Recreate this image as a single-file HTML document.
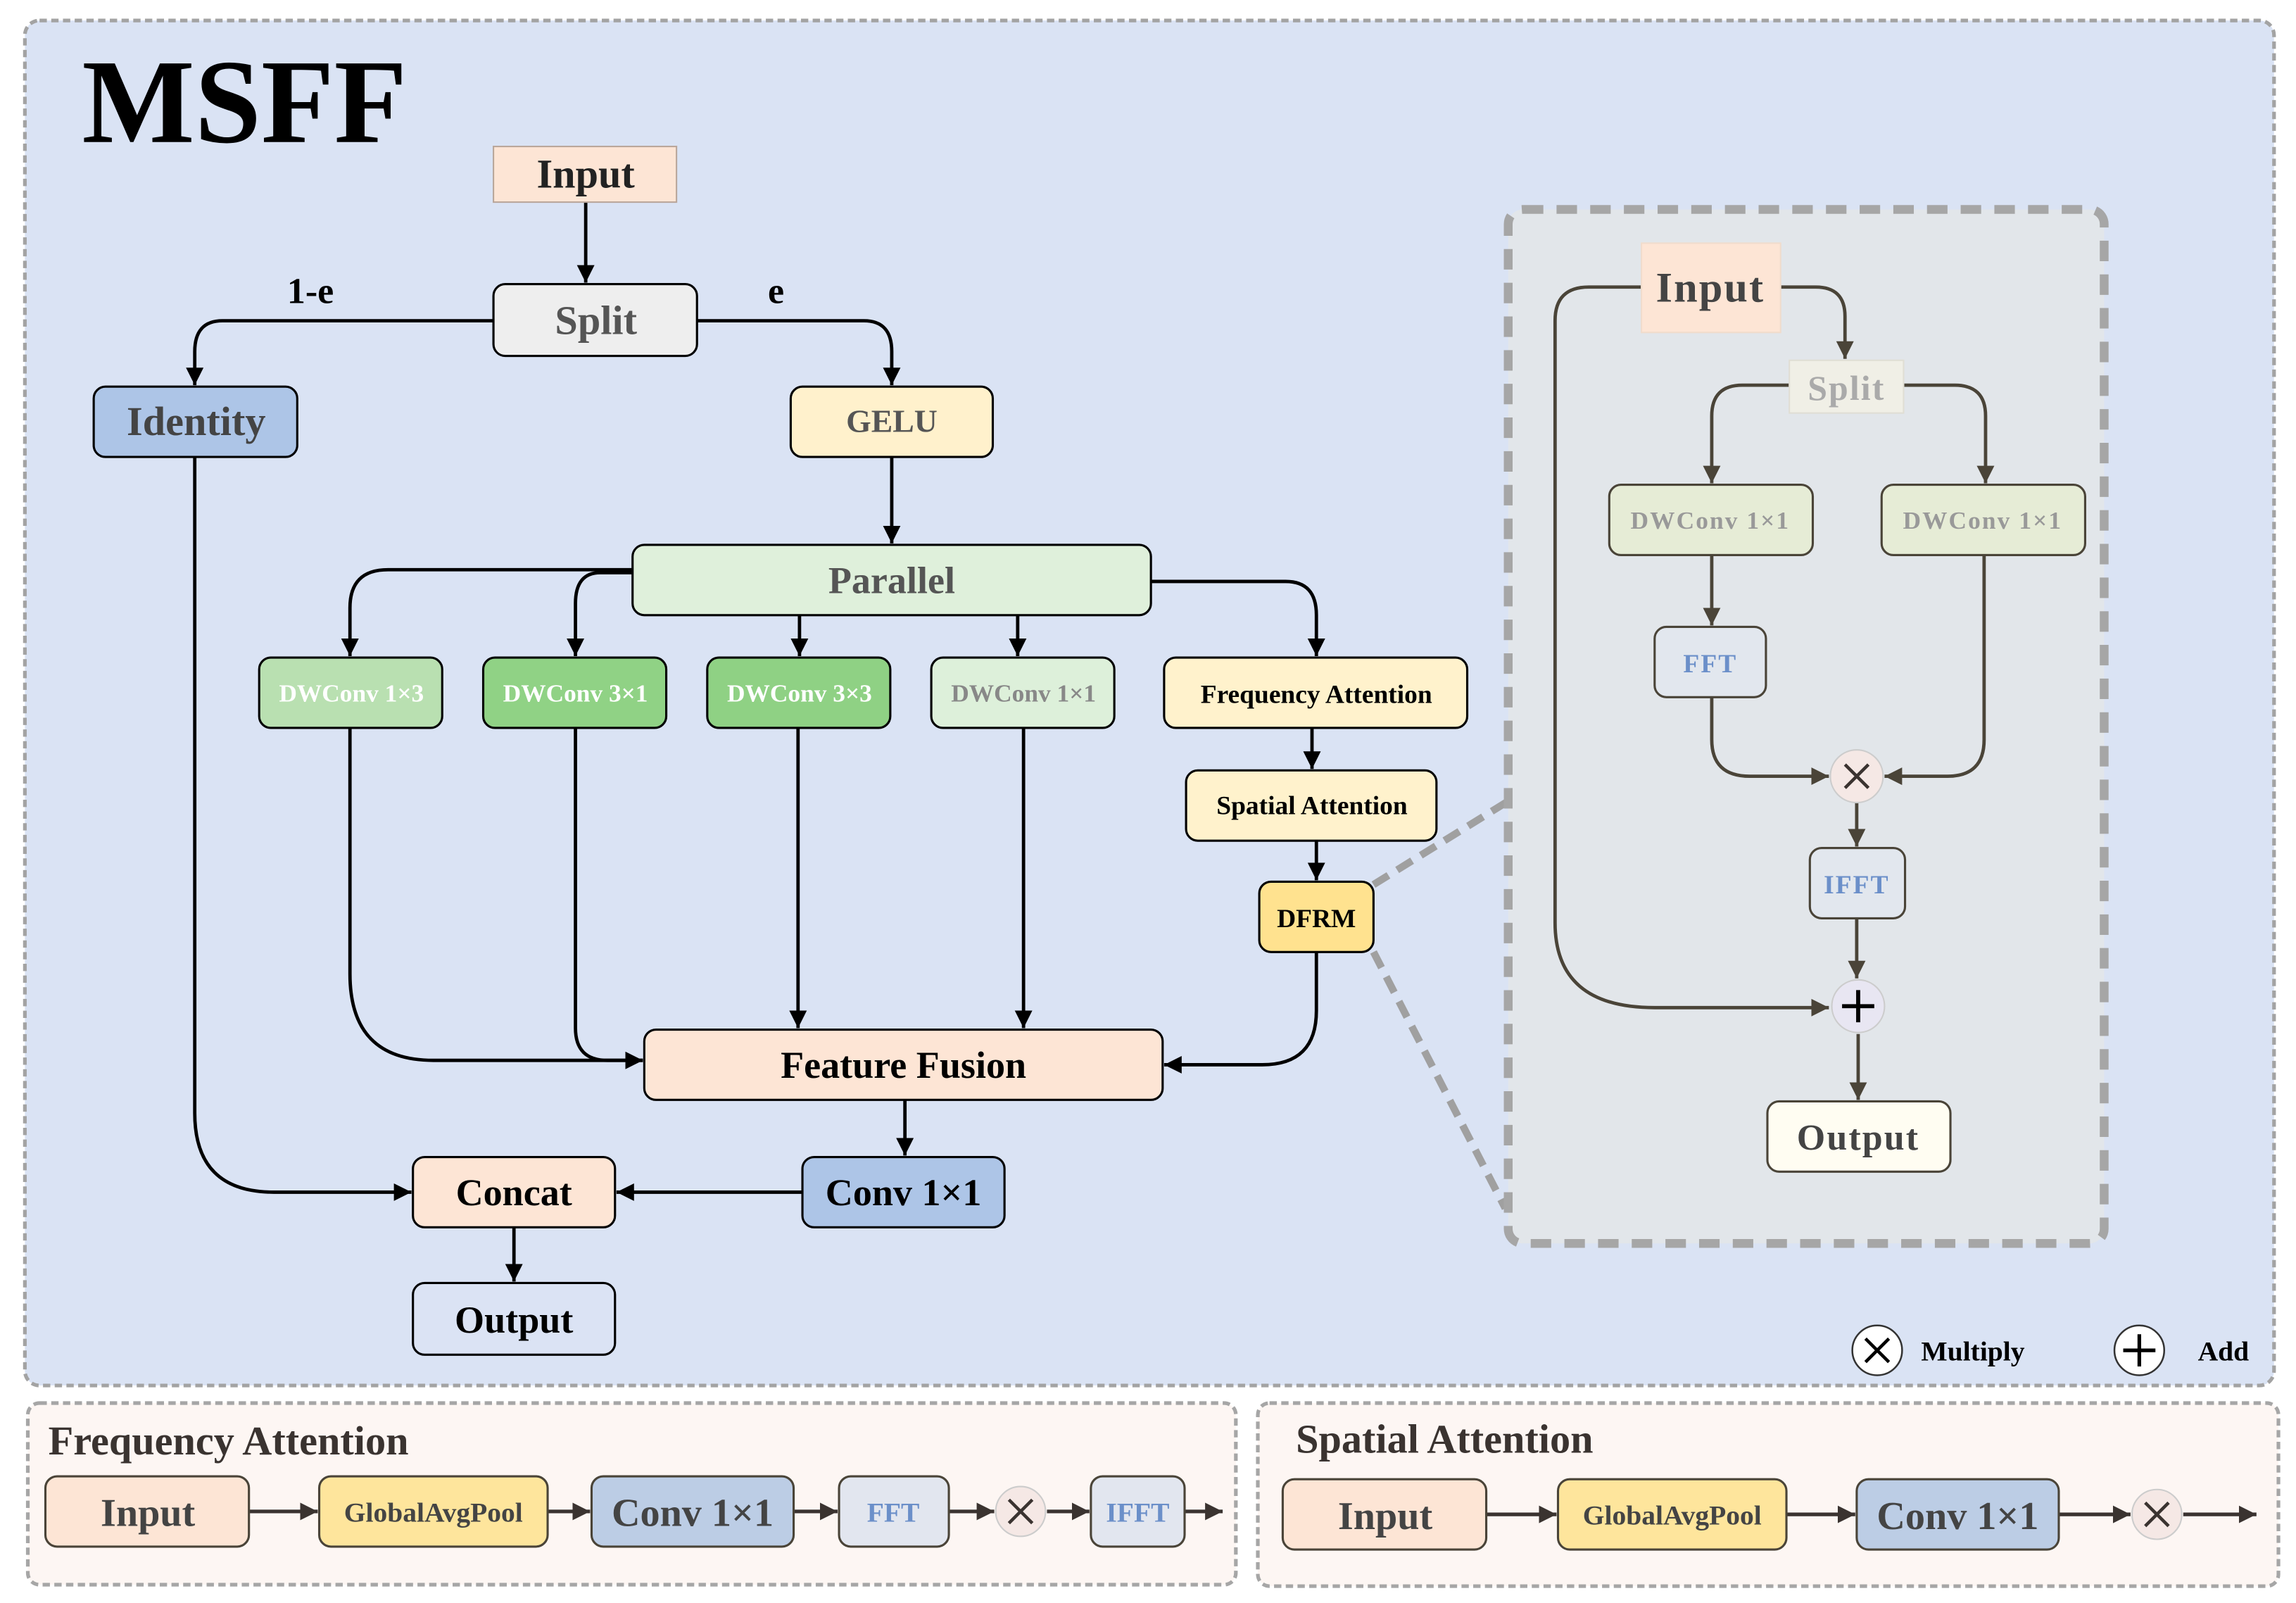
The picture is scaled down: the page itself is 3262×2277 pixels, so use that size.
<!DOCTYPE html>
<html><head><meta charset="utf-8"><style>
html,body{margin:0;padding:0;background:#fff;}
svg{display:block;}
text{font-family:"Liberation Serif",serif;font-weight:bold;}
</style></head><body>
<svg width="3262" height="2277" viewBox="0 0 1568 1094.5" xmlns="http://www.w3.org/2000/svg">
<defs>
<marker id="a" markerUnits="userSpaceOnUse" markerWidth="14" markerHeight="14" refX="12" refY="7" orient="auto"><path d="M0,1 L12,7 L0,13 z" fill="#000"/></marker>
<marker id="b" markerUnits="userSpaceOnUse" markerWidth="14" markerHeight="14" refX="12" refY="7" orient="auto"><path d="M0,1 L12,7 L0,13 z" fill="#4a4438"/></marker>
<marker id="c" markerUnits="userSpaceOnUse" markerWidth="14" markerHeight="14" refX="12" refY="7" orient="auto"><path d="M0,1 L12,7 L0,13 z" fill="#3a3330"/></marker>
</defs>
<rect width="1568" height="1094.5" fill="#fff"/>
<!-- main panel -->
<rect x="17" y="14" width="1536" height="932" rx="10" fill="#dae3f4" stroke="#a3a3a3" stroke-width="2.5" stroke-dasharray="5 3"/>
<text x="56" y="97" font-size="82" fill="#000" textLength="222" lengthAdjust="spacingAndGlyphs">MSFF</text>

<g stroke="#000" stroke-width="2.3" fill="none">
<path d="M400,138 V193" marker-end="url(#a)"/>
<path d="M337,219 H152 Q133,219 133,240 V263" marker-end="url(#a)"/>
<path d="M476,219 H590 Q609,219 609,240 V263" marker-end="url(#a)"/>
<path d="M609,312 V371" marker-end="url(#a)"/>
<path d="M432,389 H265 Q239,389 239,415 V448" marker-end="url(#a)"/>
<path d="M432,391 H410 Q393,391 393,412 V448" marker-end="url(#a)"/>
<path d="M546,420 V448" marker-end="url(#a)"/>
<path d="M695,420 V448" marker-end="url(#a)"/>
<path d="M786,397 H878 Q899,397 899,420 V448" marker-end="url(#a)"/>
<path d="M896,497 V525" marker-end="url(#a)"/>
<path d="M899,574 V601" marker-end="url(#a)"/>
<path d="M239,497 V665 Q239,724 296,724 H439" marker-end="url(#a)"/>
<path d="M393,497 V702 Q393,724 415,724 H439" marker-end="url(#a)"/>
<path d="M545,497 V702" marker-end="url(#a)"/>
<path d="M699,497 V702" marker-end="url(#a)"/>
<path d="M899,650 V690 Q899,727 862,727 H795" marker-end="url(#a)"/>
<path d="M618,751 V789" marker-end="url(#a)"/>
<path d="M548,814 H421" marker-end="url(#a)"/>
<path d="M133,312 V760 Q133,814 187,814 H281" marker-end="url(#a)"/>
<path d="M351,838 V875" marker-end="url(#a)"/>
</g>

<g stroke="#000" stroke-width="1.5">
<rect x="337" y="100" width="125" height="38" fill="#fde5d5" stroke="#b9a69a" stroke-width="1"/>
<rect x="337" y="194" width="139" height="49" rx="8" fill="#eeeeee"/>
<rect x="64" y="264" width="139" height="48" rx="8" fill="#adc5e7"/>
<rect x="540" y="264" width="138" height="48" rx="8" fill="#fff1cc"/>
<rect x="432" y="372" width="354" height="48" rx="8" fill="#dff0db"/>
<rect x="177" y="449" width="125" height="48" rx="8" fill="#b9e0b1"/>
<rect x="330" y="449" width="125" height="48" rx="8" fill="#90d285"/>
<rect x="483" y="449" width="125" height="48" rx="8" fill="#8fd184"/>
<rect x="636" y="449" width="125" height="48" rx="8" fill="#ddf0da"/>
<rect x="795" y="449" width="207" height="48" rx="8" fill="#fff2cc"/>
<rect x="810" y="526" width="171" height="48" rx="8" fill="#fff2cc"/>
<rect x="860" y="602" width="78" height="48" rx="8" fill="#ffe28f"/>
<rect x="440" y="703" width="354" height="48" rx="8" fill="#fde5d5"/>
<rect x="548" y="790" width="138" height="48" rx="8" fill="#adc5e7"/>
<rect x="282" y="790" width="138" height="48" rx="8" fill="#fde5d5"/>
<rect x="282" y="876" width="138" height="49" rx="8" fill="#dbe3f4"/>
</g>
<g text-anchor="middle">
<text x="400" y="128" font-size="28" fill="#222">Input</text>
<text x="407" y="228" font-size="28" fill="#555">Split</text>
<text x="212" y="207" font-size="25" fill="#000">1-e</text>
<text x="530" y="207" font-size="25" fill="#000">e</text>
<text x="134" y="297" font-size="28" fill="#444">Identity</text>
<text x="609" y="295" font-size="22" fill="#555">GELU</text>
<text x="609" y="405" font-size="26" fill="#555">Parallel</text>
<text x="240" y="479" font-size="17" fill="#fff">DWConv 1×3</text>
<text x="393" y="479" font-size="17" fill="#fff">DWConv 3×1</text>
<text x="546" y="479" font-size="17" fill="#fff">DWConv 3×3</text>
<text x="699" y="479" font-size="17" fill="#888">DWConv 1×1</text>
<text x="899" y="480" font-size="18" fill="#000">Frequency Attention</text>
<text x="896" y="556" font-size="18" fill="#000">Spatial Attention</text>
<text x="899" y="633" font-size="18" fill="#000">DFRM</text>
<text x="617" y="736" font-size="26" fill="#000">Feature Fusion</text>
<text x="617" y="823" font-size="26" fill="#000">Conv 1×1</text>
<text x="351" y="823" font-size="26" fill="#000">Concat</text>
<text x="351" y="910" font-size="26" fill="#000">Output</text>
</g>
<!-- legend -->
<circle cx="1282" cy="922" r="17" fill="#fff" stroke="#333" stroke-width="1.2"/>
<path d="M1274,914 L1290,930 M1290,914 L1274,930" stroke="#000" stroke-width="2.2"/>
<text x="1312" y="929" font-size="19" fill="#000">Multiply</text>
<circle cx="1461" cy="922" r="17" fill="#fff" stroke="#333" stroke-width="1.2"/>
<path d="M1450,922 H1472 M1461,911 V933" stroke="#000" stroke-width="2.5"/>
<text x="1501" y="929" font-size="19" fill="#000">Add</text>

<!-- DFRM zoom lines -->
<path d="M938,604 L1030,547" stroke="#a0a0a0" stroke-width="5" stroke-dasharray="12 7" fill="none"/>
<path d="M938,650 L1028,825" stroke="#a0a0a0" stroke-width="5" stroke-dasharray="12 7" fill="none"/>
<!-- DFRM panel -->
<rect x="1030" y="143" width="407" height="706" rx="10" fill="#e2e6ea" stroke="#a6a6a6" stroke-width="6" stroke-dasharray="14 9"/>
<g stroke="#4a4438" stroke-width="2.3" fill="none">
<path d="M1121,196 H1085 Q1062,196 1062,219 V630 Q1062,688 1130,688 H1249" marker-end="url(#b)"/>
<path d="M1216,196 H1240 Q1260,196 1260,216 V245" marker-end="url(#b)"/>
<path d="M1222,263 H1190 Q1169,263 1169,284 V330" marker-end="url(#b)"/>
<path d="M1300,263 H1335 Q1356,263 1356,284 V330" marker-end="url(#b)"/>
<path d="M1169,379 V427" marker-end="url(#b)"/>
<path d="M1169,476 V505 Q1169,530 1195,530 H1249" marker-end="url(#b)"/>
<path d="M1355,379 V505 Q1355,530 1330,530 H1287" marker-end="url(#b)"/>
<path d="M1268,548 V578" marker-end="url(#b)"/>
<path d="M1268,627 V668" marker-end="url(#b)"/>
<path d="M1269,706 V751" marker-end="url(#b)"/>
</g>
<rect x="1121" y="166" width="95" height="61" fill="#fde5d5" stroke="#f0dccc" stroke-width="1"/>
<rect x="1222" y="246" width="78" height="36" fill="#f0efe6" stroke="#e0ded4" stroke-width="1"/>
<g stroke="#4a4438" stroke-width="1.5">
<rect x="1099" y="331" width="139" height="48" rx="8" fill="#e6ecd6"/>
<rect x="1285" y="331" width="139" height="48" rx="8" fill="#e6ecd6"/>
<rect x="1130" y="428" width="76" height="48" rx="8" fill="#e2e7ee"/>
<rect x="1236" y="579" width="65" height="48" rx="8" fill="#e2e7ee"/>
<rect x="1207" y="752" width="125" height="48" rx="8" fill="#fffdf2"/>
</g>
<circle cx="1268" cy="530" r="18" fill="#f5e8e5" stroke="#ccc" stroke-width="1"/>
<path d="M1260,522 L1276,538 M1276,522 L1260,538" stroke="#3a3330" stroke-width="2.2"/>
<circle cx="1269" cy="687" r="18" fill="#e8e6f2" stroke="#ccc" stroke-width="1"/>
<path d="M1258,687 H1280 M1269,676 V698" stroke="#000" stroke-width="2.8"/>
<g text-anchor="middle">
<text x="1168" y="206" font-size="29" fill="#444" letter-spacing="1">Input</text>
<text x="1261" y="273" font-size="24" fill="#aaa" letter-spacing="1">Split</text>
<text x="1168" y="361" font-size="17" fill="#999" letter-spacing="1">DWConv 1×1</text>
<text x="1354" y="361" font-size="17" fill="#999" letter-spacing="1">DWConv 1×1</text>
<text x="1168" y="459" font-size="18" fill="#6b8fc9" letter-spacing="1">FFT</text>
<text x="1268" y="610" font-size="18" fill="#6b8fc9" letter-spacing="1">IFFT</text>
<text x="1269" y="785" font-size="25" fill="#444" letter-spacing="1">Output</text>
</g>

<!-- bottom panel 1 -->
<rect x="19" y="958" width="825" height="124" rx="8" fill="#fdf6f3" stroke="#a6a6a6" stroke-width="2.5" stroke-dasharray="5 3"/>
<text x="33" y="993" font-size="28" fill="#3a3330">Frequency Attention</text>
<g stroke="#3a3330" stroke-width="2.5" fill="none">
<path d="M170,1032 H217" marker-end="url(#c)"/>
<path d="M374,1032 H403" marker-end="url(#c)"/>
<path d="M542,1032 H572" marker-end="url(#c)"/>
<path d="M648,1032 H679" marker-end="url(#c)"/>
<path d="M715,1032 H744" marker-end="url(#c)"/>
<path d="M809,1032 H835" marker-end="url(#c)"/>
</g>
<g stroke="#4a4438" stroke-width="1.5">
<rect x="31" y="1008" width="139" height="48" rx="8" fill="#fde5d5"/>
<rect x="218" y="1008" width="156" height="48" rx="8" fill="#fee59c"/>
<rect x="404" y="1008" width="138" height="48" rx="8" fill="#bccde5"/>
<rect x="573" y="1008" width="75" height="48" rx="8" fill="#e2e6ef"/>
<rect x="745" y="1008" width="64" height="48" rx="8" fill="#e2e6ef"/>
</g>
<circle cx="697" cy="1032" r="17" fill="#f5e8e5" stroke="#ccc" stroke-width="1"/>
<path d="M689,1024 L705,1040 M705,1024 L689,1040" stroke="#3a3330" stroke-width="2.2"/>
<g text-anchor="middle">
<text x="101" y="1042" font-size="27" fill="#444">Input</text>
<text x="296" y="1039" font-size="19" fill="#444">GlobalAvgPool</text>
<text x="473" y="1042" font-size="27" fill="#444">Conv 1×1</text>
<text x="610" y="1039" font-size="19" fill="#6b8fc9">FFT</text>
<text x="777" y="1039" font-size="19" fill="#6b8fc9">IFFT</text>
</g>

<!-- bottom panel 2 -->
<rect x="859" y="958" width="697" height="125" rx="8" fill="#fdf6f3" stroke="#a6a6a6" stroke-width="2.5" stroke-dasharray="5 3"/>
<text x="885" y="992" font-size="28" fill="#3a3330">Spatial Attention</text>
<g stroke="#3a3330" stroke-width="2.5" fill="none">
<path d="M1015,1034 H1063" marker-end="url(#c)"/>
<path d="M1220,1034 H1267" marker-end="url(#c)"/>
<path d="M1406,1034 H1455" marker-end="url(#c)"/>
<path d="M1491,1034 H1541" marker-end="url(#c)"/>
</g>
<g stroke="#4a4438" stroke-width="1.5">
<rect x="876" y="1010" width="139" height="48" rx="8" fill="#fde5d5"/>
<rect x="1064" y="1010" width="156" height="48" rx="8" fill="#fee59c"/>
<rect x="1268" y="1010" width="138" height="48" rx="8" fill="#bccde5"/>
</g>
<circle cx="1473" cy="1034" r="17" fill="#f5e8e5" stroke="#ccc" stroke-width="1"/>
<path d="M1465,1026 L1481,1042 M1481,1026 L1465,1042" stroke="#3a3330" stroke-width="2.2"/>
<g text-anchor="middle">
<text x="946" y="1044" font-size="27" fill="#444">Input</text>
<text x="1142" y="1041" font-size="19" fill="#444">GlobalAvgPool</text>
<text x="1337" y="1044" font-size="27" fill="#444">Conv 1×1</text>
</g>
</svg>
</body></html>
